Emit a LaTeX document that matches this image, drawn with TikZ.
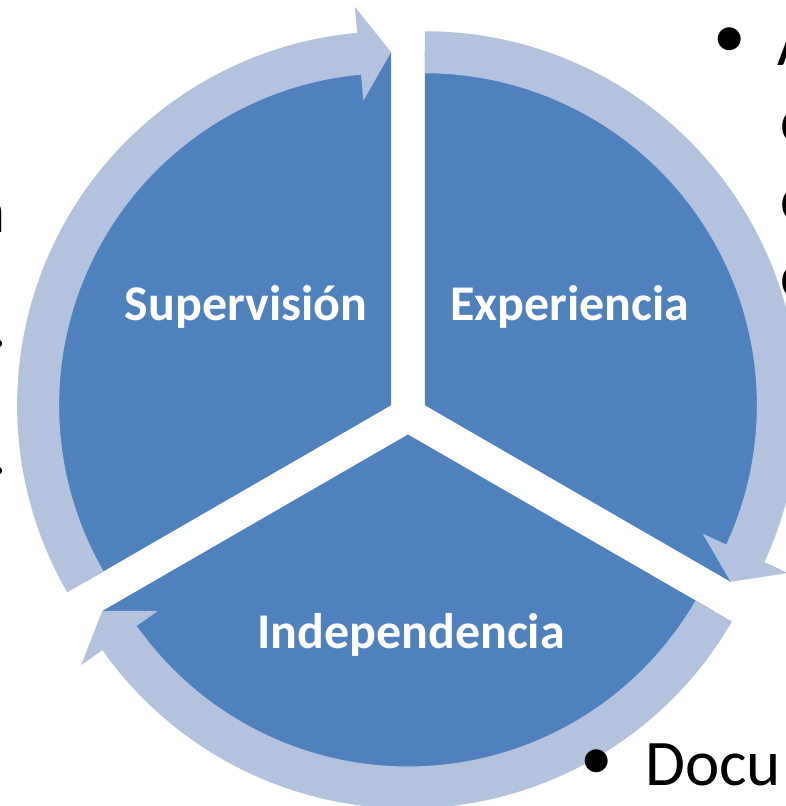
\documentclass[tikz,border=0pt]{standalone}
\usepackage{fontspec}
\setmainfont{Carlito}
\usetikzlibrary{calc}
\definecolor{segblue}{RGB}{79,129,189}
\definecolor{ringblue}{RGB}{179,194,221}
\newcommand\segr{353}
\newcommand\ringin{332}
\newcommand\ringout{374}
\newcommand\ringmid{353}
\newcommand\headin{306}
\newcommand\headout{400}
% #1 centre, #2 start angle, #3 head base angle, #4 tip angle
\newcommand\cyclearrow[4]{%
  \fill[ring] ([shift={(#1)}]#2:\ringout) arc[start angle=#2,end angle=#3,radius=\ringout]
    -- ([shift={(#1)}]#3:\headout) -- ([shift={(#1)}]#4:\ringmid)
    -- ([shift={(#1)}]#3:\headin) -- ([shift={(#1)}]#3:\ringin)
    arc[start angle=#3,end angle=#2,radius=\ringin] -- cycle;}
\begin{document}
\begin{tikzpicture}[x=1pt,y=1pt,
  seg/.style={fill=segblue},
  ring/.style={fill=ringblue},
  segtext/.style={text=white,font=\fontsize{50}{60}\selectfont\bfseries,inner sep=0pt,anchor=base},
  bultext/.style={text=black,font=\fontsize{65}{78}\selectfont,inner sep=0pt,anchor=base west},
  bulmark/.style={text=black,font=\fontsize{65}{78}\selectfont,inner sep=0pt,anchor=center},
  sidetext/.style={text=black,font=\fontsize{65}{78}\selectfont,inner sep=0pt,anchor=base east}]
\useasboundingbox (0,-806) rectangle (786,0);
\fill[white] (0,-806) rectangle (786,0);
\coordinate (C) at (408,-415);
\coordinate (L) at ($(C)+(150:19.5)$);
\coordinate (R) at ($(C)+(30:19.5)$);
\coordinate (B) at ($(C)+(270:19.5)$);
% sectors
\fill[seg] (L) -- ([shift={(L)}]90:\segr) arc[start angle=90,end angle=210,radius=\segr] -- cycle;
\fill[seg] (R) -- ([shift={(R)}]-30:\segr) arc[start angle=-30,end angle=90,radius=\segr] -- cycle;
\fill[seg] (B) -- ([shift={(B)}]210:\segr) arc[start angle=210,end angle=330,radius=\segr] -- cycle;
% circular arrows
\cyclearrow{L}{210}{95.2}{90}
\cyclearrow{R}{90}{-24.8}{-30}
\cyclearrow{B}{330}{215.2}{210}
% labels
\node[segtext] (sup) at (246,-320) {Supervisión};
\node[segtext] (exp) at (570,-320) {Experiencia};
\node[segtext] (ind) at (411,-648) {Independencia};
% partial background text
\node[bulmark] (b1) at (730,-43) {•};
\node[bultext] (t1) at (777,-65) {A};
\node[bultext] (t2) at (780,-142) {c};
\node[bultext] (t3) at (780,-220) {c};
\node[bultext] (t4) at (780,-297) {c};
\node[bulmark] (b5) at (597,-765) {•};
\node[bultext] (t5) at (645,-785) {Docu};
\node[sidetext] (l1) at (6,-232) {n};
\node[sidetext] (l2) at (7,-347) {.};
\node[sidetext] (l3) at (7,-474) {.};
\end{tikzpicture}
\end{document}
